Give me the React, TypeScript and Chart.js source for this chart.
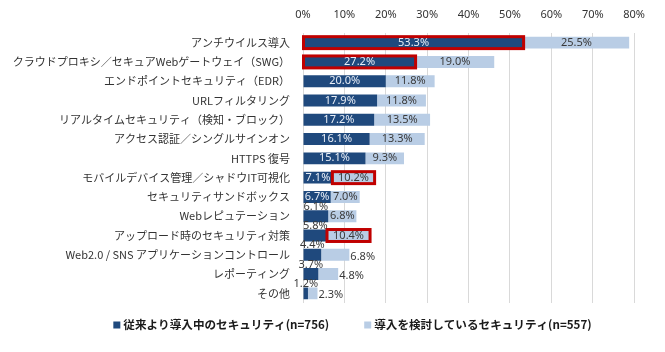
import React, { useEffect, useRef } from "react";
import { Chart, registerables } from "chart.js";

Chart.register(...registerables);

const categories = [
  "アンチウイルス導入",
  "クラウドプロキシ／セキュアWebゲートウェイ（SWG）",
  "エンドポイントセキュリティ（EDR）",
  "URLフィルタリング",
  "リアルタイムセキュリティ（検知・ブロック）",
  "アクセス認証／シングルサインオン",
  "HTTPS 復号",
  "モバイルデバイス管理／シャドウIT可視化",
  "セキュリティサンドボックス",
  "Webレピュテーション",
  "アップロード時のセキュリティ対策",
  "Web2.0 / SNS アプリケーションコントロール",
  "レポーティング",
  "その他",
];

const currentValues = [53.3, 27.2, 20.0, 17.9, 17.2, 16.1, 15.1, 7.1, 6.7, 6.1, 5.8, 4.4, 3.7, 1.2];
const consideringValues = [25.5, 19.0, 11.8, 11.8, 13.5, 13.3, 9.3, 10.2, 7.0, 6.8, 10.4, 6.8, 4.8, 2.3];

const seriesLabels = [
  "従来より導入中のセキュリティ(n=756)",
  "導入を検討しているセキュリティ(n=557)",
];

const xTickLabels = ["0%", "10%", "20%", "30%", "40%", "50%", "60%", "70%", "80%"];

// style / placement helpers (not data)
const DARK = "#1F497D";
const LIGHT = "#B9CDE5";
const RED = "#C00000";
const highlights: [number, number][] = [
  [0, 0],
  [0, 1],
  [1, 7],
  [1, 10],
];
// label placement per dataset: 'in' | 'above' | 'after'
const labelModes: string[][] = [
  ["in", "in", "in", "in", "in", "in", "in", "in", "in", "above", "above", "above", "above", "above"],
  ["in", "in", "in", "in", "in", "in", "in", "in", "in", "in", "in", "after", "after", "after"],
];

const highlightPlugin = {
  id: "highlightBorders",
  afterDatasetsDraw(chart: any) {
    const ctx = chart.ctx;
    ctx.save();
    ctx.strokeStyle = RED;
    ctx.lineWidth = 3;
    highlights.forEach(([di, i]) => {
      const el = chart.getDatasetMeta(di).data[i];
      if (!el) return;
      const { x, y, base, height } = el.getProps(["x", "y", "base", "height"], true);
      const l = Math.min(x, base);
      const r = Math.max(x, base);
      ctx.strokeRect(l, y - height / 2, r - l, height);
    });
    ctx.restore();
  },
};

const dataLabelPlugin = {
  id: "dataLabels",
  afterDatasetsDraw(chart: any) {
    const ctx = chart.ctx;
    ctx.save();
    ctx.font = '11px "Noto Sans", sans-serif';
    ctx.textBaseline = "middle";
    chart.data.datasets.forEach((ds: any, di: number) => {
      const meta = chart.getDatasetMeta(di);
      meta.data.forEach((el: any, i: number) => {
        const v = ds.data[i];
        const { x, y, base } = el.getProps(["x", "y", "base"], true);
        const text = v.toFixed(1) + "%";
        const mode = labelModes[di][i];
        let tx = (x + base) / 2;
        let ty = y;
        let align: CanvasTextAlign = "center";
        let color = di === 0 ? "#E8EEF7" : "#3A3A3A";
        if (mode === "above") {
          ty = y - 9.5;
          color = "#3A3A3A";
        } else if (mode === "after") {
          tx = Math.max(x, base) + 1;
          ty = y + 2;
          align = "left";
        }
        ctx.textAlign = align;
        ctx.fillStyle = color;
        ctx.fillText(text, tx, ty);
      });
    });
    ctx.restore();
  },
};

const legendPlugin = {
  id: "bottomLegend",
  afterDraw(chart: any) {
    const ctx = chart.ctx;
    ctx.save();
    ctx.font = 'bold 11.6px "Noto Sans CJK JP", sans-serif';
    ctx.textBaseline = "middle";
    ctx.textAlign = "left";
    const box = 7;
    const gapBox = 3;
    const gapItems = 35;
    const items = chart.data.datasets.map((ds: any) => ({
      text: ds.label,
      color: ds.backgroundColor,
      w: ctx.measureText(ds.label).width,
    }));
    const total =
      items.reduce((s: number, it: any) => s + box + gapBox + it.w, 0) + gapItems * (items.length - 1);
    const centerX = 344.5;
    const cy = chart.chartArea.bottom + 22;
    let cx = centerX - total / 2;
    items.forEach((it: any) => {
      ctx.fillStyle = it.color;
      ctx.fillRect(cx, cy - box / 2, box, box);
      cx += box + gapBox;
      ctx.fillStyle = "#1A1A1A";
      ctx.fillText(it.text, cx, cy);
      cx += it.w + gapItems;
    });
    ctx.restore();
  },
};

export default function App() {
  const canvasRef = useRef<HTMLCanvasElement | null>(null);

  useEffect(() => {
    if (!canvasRef.current) return;
    const chart = new Chart(canvasRef.current, {
      type: "bar",
      data: {
        labels: categories,
        datasets: [
          {
            label: seriesLabels[0],
            data: currentValues,
            backgroundColor: DARK,
            barPercentage: 0.62,
            categoryPercentage: 1,
          },
          {
            label: seriesLabels[1],
            data: consideringValues,
            backgroundColor: LIGHT,
            barPercentage: 0.62,
            categoryPercentage: 1,
          },
        ],
      },
      options: {
        indexAxis: "y",
        animation: false,
        responsive: true,
        maintainAspectRatio: false,
        layout: { padding: { top: 0, right: 20, bottom: 41, left: 0 } },
        plugins: {
          legend: { display: false },
          tooltip: { enabled: false },
        },
        scales: {
          x: {
            position: "top",
            stacked: true,
            min: 0,
            max: 80,
            ticks: {
              stepSize: 10,
              padding: 12,
              color: "#333333",
              font: { family: '"Noto Sans", sans-serif', size: 11 },
              callback: (_v: any, i: number) => xTickLabels[i],
            },
            grid: { color: "#D9D9D9", drawTicks: false },
            border: { display: false },
            afterFit: (s: any) => {
              s.height = 25;
            },
          },
          y: {
            stacked: true,
            grid: { display: false, drawTicks: false },
            border: { display: false },
            ticks: {
              padding: 13,
              autoSkip: false,
              color: "#333333",
              font: { family: '"Noto Sans CJK JP", sans-serif', size: 11 },
            },
            afterFit: (s: any) => {
              s.width = 295;
            },
          },
        },
      },
      plugins: [highlightPlugin, dataLabelPlugin, legendPlugin],
    } as any);
    return () => chart.destroy();
  }, []);

  return (
    <div style={{ width: 649, height: 336, position: "relative" }}>
      <canvas ref={canvasRef} />
    </div>
  );
}
